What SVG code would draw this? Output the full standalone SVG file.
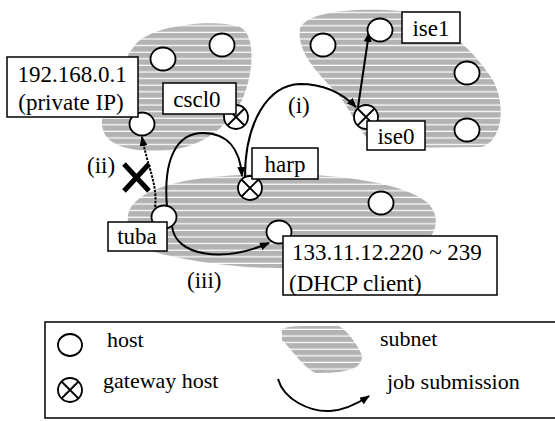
<svg xmlns="http://www.w3.org/2000/svg" width="555" height="421" viewBox="0 0 555 421">
<defs>
<pattern id="stripes" width="10" height="6.6" patternUnits="userSpaceOnUse">
<rect width="10" height="6.6" fill="#b3b3b3"/>
<rect y="5.4" width="10" height="1.2" fill="#fff"/>
</pattern>
<marker id="arr" viewBox="0 0 10 8" refX="9" refY="4" markerWidth="10" markerHeight="8" markerUnits="userSpaceOnUse" orient="auto">
<path d="M0,0 L10,4 L0,8 Z" fill="#000"/>
</marker>
<g id="gw-sym">
<circle r="12" fill="#fff" stroke="#000" stroke-width="1.8"/>
<path d="M-8.5,-8.5 L8.5,8.5 M8.5,-8.5 L-8.5,8.5" stroke="#000" stroke-width="1.8"/>
</g>
</defs>
<style>
.subnet{fill:url(#stripes);stroke:none}
.host{fill:#fff;stroke:#000;stroke-width:1.8}
.box{fill:#fff;stroke:#000;stroke-width:1.5}
.conn{fill:none;stroke:#000;stroke-width:2}
</style>
<rect width="555" height="421" fill="#fff"/>

<!-- subnets -->
<g id="subnets">
<path class="subnet" d="M135,45 C150,25 215,18 240,27 C258,36 252,80 242,100 C230,122 208,146 170,150 C130,153 100,146 102,120 C104,96 122,62 135,45 Z"/>
<path class="subnet" d="M300,28 C310,10 360,8 400,11 C440,16 478,55 494,82 C506,108 502,140 482,147 L380,148 C362,140 352,112 340,97 C322,76 296,55 300,28 Z"/>
<path class="subnet" d="M128,222 C124,195 168,178 240,175 C320,171 400,180 428,203 C442,218 436,236 420,246 L300,268 C250,270 182,262 142,248 C131,240 129,232 128,222 Z"/>
</g>

<!-- connectors -->
<g id="connectors" font-family="Liberation Serif, Times New Roman, serif" font-size="23">
<path class="conn" d="M167,207 C163,160 176,133 203,133 C228,133 240,150 242,176" marker-end="url(#arr)"/>
<path class="conn" d="M245,177 C245,122 268,85 300,84 C325,84 343,94 356,107" marker-end="url(#arr)"/>
<path class="conn" d="M358,107 L369,33" marker-end="url(#arr)"/>
<path class="conn" d="M155,207 C158,185 147,165 142,137" stroke-dasharray="2.5,1.2" marker-end="url(#arr)"/>
<path class="conn" d="M172,226 C175,256 222,263 269,243" marker-end="url(#arr)"/>
<path d="M124,164 L149,191 M149,164 L124,191" stroke="#000" stroke-width="5" fill="none"/>
<text x="288" y="113">(i)</text>
<text x="87" y="173">(ii)</text>
<text x="187" y="288">(iii)</text>
</g>

<!-- hosts top-left subnet -->
<g id="h1"><ellipse class="host" cx="163" cy="59" rx="12.5" ry="11.5"/></g>
<g id="h2"><ellipse class="host" cx="222" cy="45" rx="12.5" ry="11.5"/></g>
<g id="private-host"><ellipse class="host" cx="142" cy="124" rx="12.5" ry="11.5"/></g>
<g id="cscl0"><use href="#gw-sym" x="236" y="117"/></g>

<!-- hosts top-right subnet -->
<g id="h3"><ellipse class="host" cx="323" cy="45" rx="12.5" ry="11.5"/></g>
<g id="ise1"><ellipse class="host" cx="380" cy="30" rx="12.5" ry="11.5"/></g>
<g id="h4"><ellipse class="host" cx="467" cy="73" rx="12.5" ry="11.5"/></g>
<g id="h5"><ellipse class="host" cx="467" cy="130" rx="12.5" ry="11.5"/></g>
<g id="ise0"><use href="#gw-sym" x="366" y="117"/></g>

<!-- hosts bottom subnet -->
<g id="harp"><use href="#gw-sym" x="250" y="188"/></g>
<g id="tuba"><ellipse class="host" cx="164" cy="217" rx="12.5" ry="11.5"/></g>
<g id="dhcp-host"><ellipse class="host" cx="279" cy="232" rx="12.5" ry="11.5"/></g>
<g id="h6"><ellipse class="host" cx="381" cy="203" rx="12.5" ry="11.5"/></g>

<!-- labels -->
<g id="labels" font-family="Liberation Serif, Times New Roman, serif" font-size="23">
<g id="label-private">
<rect class="box" x="7" y="57" width="131" height="60"/>
<text x="72" y="82" text-anchor="middle">192.168.0.1</text>
<text x="71" y="110" text-anchor="middle">(private IP)</text>
</g>
<g id="label-cscl0">
<rect class="box" x="163" y="83" width="73" height="31"/>
<text x="197" y="107" text-anchor="middle">cscl0</text>
</g>
<g id="label-ise1">
<rect class="box" x="402" y="12" width="58" height="31"/>
<text x="431" y="36" text-anchor="middle">ise1</text>
</g>
<g id="label-ise0">
<rect class="box" x="367" y="121" width="58" height="29"/>
<text x="396" y="144" text-anchor="middle">ise0</text>
</g>
<g id="label-harp">
<rect class="box" x="252" y="148" width="66" height="31"/>
<text x="285" y="172" text-anchor="middle">harp</text>
</g>
<g id="label-tuba">
<rect class="box" x="108" y="222" width="59" height="29"/>
<text x="137" y="244" text-anchor="middle">tuba</text>
</g>
<g id="label-dhcp">
<rect class="box" x="283" y="236" width="214" height="59"/>
<text x="292" y="260">133.11.12.220 ~ 239</text>
<text x="289" y="291">(DHCP client)</text>
</g>
</g>

<!-- legend -->
<g id="legend" font-family="Liberation Serif, Times New Roman, serif" font-size="22">
<rect x="45" y="322" width="520" height="96" fill="#fff" stroke="#000" stroke-width="1.5"/>
<ellipse class="host" cx="70" cy="345" rx="12" ry="11"/>
<text x="107" y="347">host</text>
<use href="#gw-sym" x="70" y="390"/>
<text x="103" y="388">gateway host</text>
<path class="subnet" d="M282,333 C280,325 295,326 338,326 C346,328 360,348 362,356 C362,370 345,373 316,373 C306,370 290,348 282,340 Z"/>
<text x="380" y="346">subnet</text>
<path class="conn" d="M278,379 C284,400 310,412 330,411 C345,410 357,404 369,396" marker-end="url(#arr)"/>
<text x="387" y="389">job submission</text>
</g>
</svg>
